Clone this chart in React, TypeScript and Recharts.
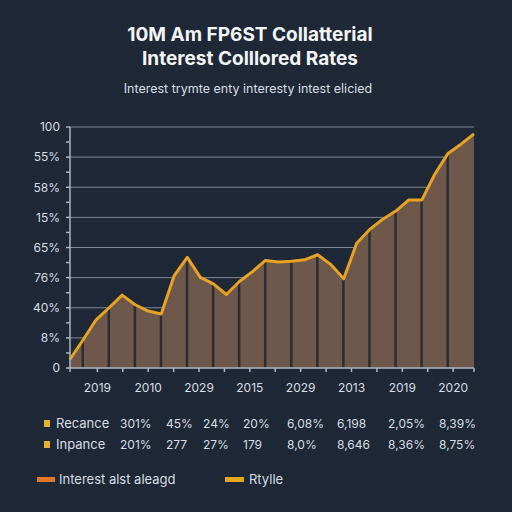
import React from 'react';
import {
  ComposedChart,
  Area,
  Bar,
  Line,
  XAxis,
  YAxis,
  CartesianGrid,
} from 'recharts';

const steps = [0, 1, 2, 3, 4, 5, 6, 7, 8, 9, 10, 11, 12, 13, 14, 15, 16, 17, 18, 19, 20, 21, 22, 23, 24, 25, 26, 27, 28, 29, 30, 31];
const rateValues = [0.29, 0.93, 1.6, 2.0, 2.42, 2.1, 1.89, 1.79, 3.07, 3.67, 3.01, 2.79, 2.44, 2.87, 3.2, 3.57, 3.52, 3.54, 3.59, 3.76, 3.44, 2.96, 4.14, 4.6, 4.94, 5.21, 5.58, 5.58, 6.44, 7.12, 7.43, 7.77];
const dividerSteps = [1, 3, 5, 7, 9, 11, 13, 15, 17, 19, 21, 23, 25, 27, 29];

const yTickValues = [0, 0.5, 1, 1.5, 2, 2.5, 3, 3.5, 4, 4.5, 5, 5.5, 6, 6.5, 7, 7.5, 8];
const yGridValues = [1, 2, 3, 4, 5, 6, 7, 8];
const yTickLabels = ['0', '8%', '40%', '76%', '65%', '15%', '58%', '55%', '100'];

const xLabelPositions = [2.1, 6.0, 9.9, 13.8, 17.7, 21.6, 25.5, 29.4];
const xMinorPositions = [0, 4.05, 7.95, 11.85, 15.75, 19.65, 23.55, 27.45, 31];
const xTickLabels = ['2019', '2010', '2029', '2015', '2029', '2013', '2019', '2020'];

const tableRowNames = ['Recance', 'Inpance'];
const tableRow1 = ['301%', '45%', '24%', '20%', '6,08%', '6,198', '2,05%', '8,39%'];
const tableRow2 = ['201%', '277', '27%', '179', '8,0%', '8,646', '8,36%', '8,75%'];
const legendNames = ['Interest alst aleagd', 'Rtylle'];

const data = steps.map((s, i) => ({
  step: s,
  rate: rateValues[i],
  divider: dividerSteps.includes(s) ? rateValues[i] : null,
}));

const BG = '#1e2836';
const TEXT = '#d9dde3';
const LINE = '#e8a224';
const FILL = '#6d584b';
const AXIS = '#aeb6c0';
const FONT = 'Inter, "Noto Sans", sans-serif';

const colLefts = [120, 166, 203, 243, 287, 337, 388, 439];

export default function App() {
  const yFmt = (v: number) => (Number.isInteger(v) ? yTickLabels[v] : '');
  const xFmt = (v: number) => {
    const idx = xLabelPositions.indexOf(v);
    return idx >= 0 ? xTickLabels[idx] : '';
  };
  const xTicks = [...xLabelPositions, ...xMinorPositions].sort((a, b) => a - b);
  const rows = [tableRow1, tableRow2];
  return (
    <div
      style={{
        position: 'fixed',
        left: 0,
        top: 0,
        width: 512,
        height: 512,
        background: BG,
        fontFamily: FONT,
        overflow: 'hidden',
      }}
    >
      <div
        style={{
          position: 'absolute',
          left: 0,
          width: 500,
          top: 23,
          textAlign: 'center',
          color: '#f4f5f7',
          fontWeight: 700,
          fontSize: 19,
          lineHeight: '24px',
        }}
      >
        <div>10M Am FP6ST Collatterial</div>
        <div>Interest Colllored Rates</div>
      </div>
      <div
        style={{
          position: 'absolute',
          left: 0,
          width: 496,
          top: 81,
          textAlign: 'center',
          color: TEXT,
          fontSize: 12.5,
        }}
      >
        Interest trymte enty interesty intest elicied
      </div>
      <div style={{ position: 'absolute', left: 0, top: 0 }}>
        <ComposedChart
          width={512}
          height={400}
          data={data}
          margin={{ top: 127, right: 38, left: 10, bottom: 2 }}
        >
          <CartesianGrid
            horizontal={true}
            vertical={false}
            stroke="#7d8896"
            strokeWidth={1}
            horizontalValues={yGridValues}
          />
          <XAxis
            dataKey="step"
            type="number"
            domain={[0, 31]}
            ticks={xTicks}
            interval={0}
            tickFormatter={xFmt}
            height={30}
            tickSize={4}
            tickMargin={11}
            stroke={AXIS}
            strokeWidth={1.5}
            tick={{ fill: TEXT, fontSize: 12, fontFamily: FONT }}
          />
          <YAxis
            type="number"
            domain={[0, 8]}
            ticks={yTickValues}
            interval={0}
            tickFormatter={yFmt}
            width={60}
            tickSize={4}
            tickMargin={6}
            stroke={AXIS}
            strokeWidth={1.5}
            tick={{ fill: TEXT, fontSize: 12, fontFamily: FONT }}
          />
          <Area
            dataKey="rate"
            type="linear"
            stroke="none"
            fill={FILL}
            fillOpacity={1}
            isAnimationActive={false}
          />
          <Bar
            dataKey="divider"
            barSize={2.5}
            fill="#2b2d33"
            isAnimationActive={false}
          />
          <Line
            dataKey="rate"
            type="linear"
            stroke={LINE}
            strokeWidth={3}
            dot={false}
            strokeLinejoin="round"
            isAnimationActive={false}
          />
        </ComposedChart>
      </div>
      {rows.map((row, r) => (
        <div key={r}>
          <div
            style={{
              position: 'absolute',
              left: 44,
              top: 420 + r * 21,
              width: 6,
              height: 7,
              background: '#e8b030',
            }}
          />
          <div
            style={{
              position: 'absolute',
              left: 56,
              top: 415 + r * 21,
              color: TEXT,
              fontSize: 13,
            }}
          >
            {tableRowNames[r]}
          </div>
          {row.map((cell, c) => (
            <div
              key={c}
              style={{
                position: 'absolute',
                left: colLefts[c],
                top: 416 + r * 21,
                color: TEXT,
                fontSize: 12,
              }}
            >
              {cell}
            </div>
          ))}
        </div>
      ))}
      <div style={{ position: 'absolute', left: 37, top: 477, width: 18, height: 5, background: '#e07a2a' }} />
      <div style={{ position: 'absolute', left: 59, top: 471, color: TEXT, fontSize: 13 }}>
        {legendNames[0]}
      </div>
      <div style={{ position: 'absolute', left: 225, top: 477, width: 19, height: 5, background: '#e8a81c' }} />
      <div style={{ position: 'absolute', left: 249, top: 471, color: TEXT, fontSize: 13 }}>
        {legendNames[1]}
      </div>
    </div>
  );
}
